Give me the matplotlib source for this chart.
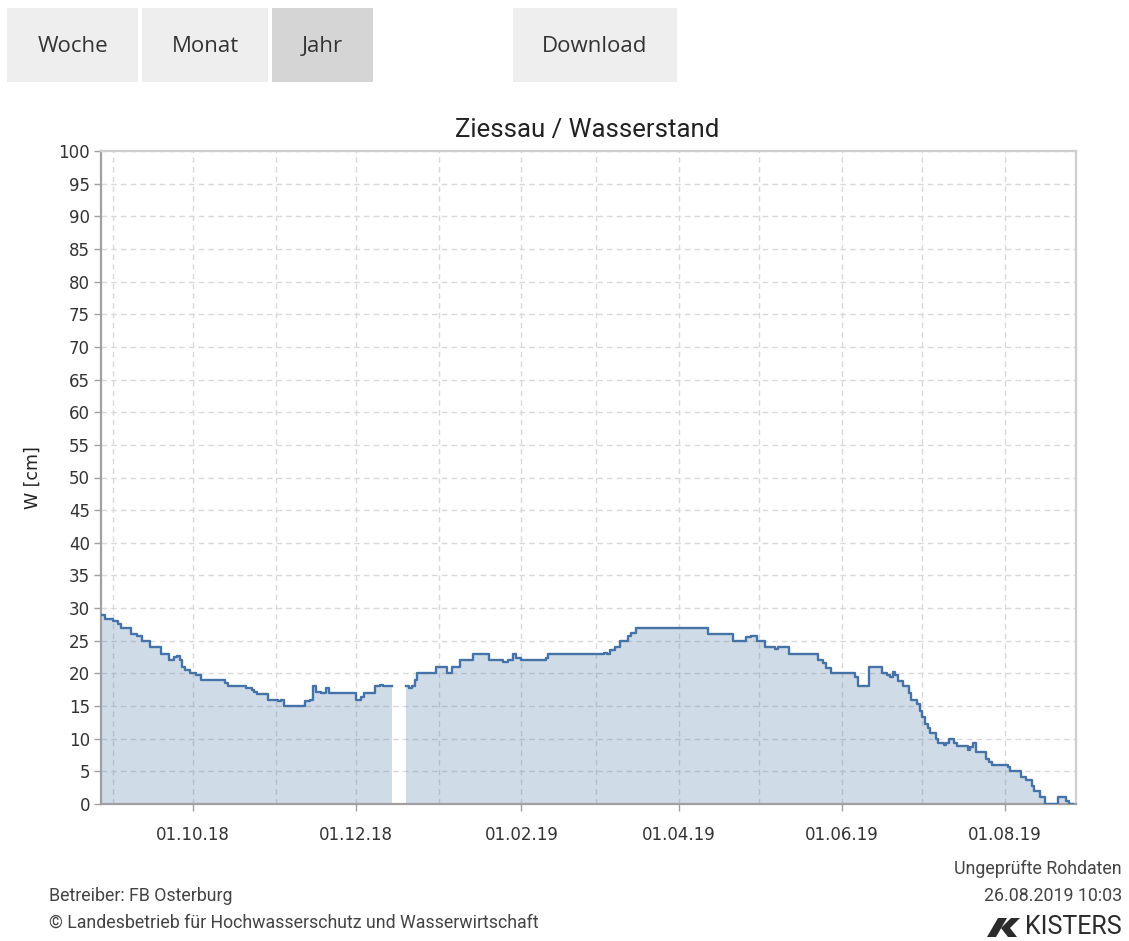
import numpy as np
import pandas as pd
import matplotlib
matplotlib.use("Agg")
import matplotlib.pyplot as plt
import matplotlib.dates as mdates
from matplotlib.patches import Rectangle, Polygon

# ---------------- data ----------------
dates = [
    "2018-08-27 14:00", "2018-08-29", "2018-09-01", "2018-09-03", "2018-09-04",
    "2018-09-08", "2018-09-10", "2018-09-12", "2018-09-15", "2018-09-19",
    "2018-09-22", "2018-09-24", "2018-09-25", "2018-09-26", "2018-09-27",
    "2018-09-28", "2018-09-30", "2018-10-02", "2018-10-04", "2018-10-13",
    "2018-10-14", "2018-10-21", "2018-10-23", "2018-10-24", "2018-10-25",
    "2018-10-29", "2018-11-02", "2018-11-03", "2018-11-04", "2018-11-12",
    "2018-11-14", "2018-11-15", "2018-11-16", "2018-11-18", "2018-11-20",
    "2018-11-21", "2018-12-01", "2018-12-03", "2018-12-04", "2018-12-08",
    "2018-12-10", "2018-12-11", "2018-12-14 12:00",
    "2018-12-19 18:00", "2018-12-21", "2018-12-22", "2018-12-23", "2018-12-24",
    "2018-12-31", "2019-01-04", "2019-01-06", "2019-01-09", "2019-01-14",
    "2019-01-20", "2019-01-25", "2019-01-27", "2019-01-29", "2019-01-30",
    "2019-02-01", "2019-02-10", "2019-02-11", "2019-03-04", "2019-03-05",
    "2019-03-06", "2019-03-08", "2019-03-10", "2019-03-13", "2019-03-14",
    "2019-03-16", "2019-04-12", "2019-04-21", "2019-04-26", "2019-04-28",
    "2019-04-30", "2019-05-03", "2019-05-07", "2019-05-08", "2019-05-12",
    "2019-05-23", "2019-05-25", "2019-05-26", "2019-05-28", "2019-06-06",
    "2019-06-07", "2019-06-11", "2019-06-16", "2019-06-18", "2019-06-19",
    "2019-06-20", "2019-06-21", "2019-06-22", "2019-06-24", "2019-06-26",
    "2019-06-27", "2019-06-29", "2019-06-30", "2019-07-01", "2019-07-02",
    "2019-07-03", "2019-07-04", "2019-07-06", "2019-07-07", "2019-07-09",
    "2019-07-10", "2019-07-11", "2019-07-13", "2019-07-14", "2019-07-18",
    "2019-07-19", "2019-07-20", "2019-07-21", "2019-07-25", "2019-07-26",
    "2019-07-27", "2019-08-02", "2019-08-03", "2019-08-07", "2019-08-09",
    "2019-08-11", "2019-08-12", "2019-08-14", "2019-08-16", "2019-08-21",
    "2019-08-24", "2019-08-25", "2019-08-26 10:03",
]
levels = [
    29, 28.4, 28, 27.6, 27,
    26.1, 25.7, 25, 24, 23,
    22, 22.5, 22.7, 22, 21,
    20.5, 20, 19.7, 19, 18.5,
    18, 17.7, 17.5, 17.2, 16.8,
    16, 15.7, 16, 15, 15.7,
    16, 18, 17.2, 17, 17.8,
    17, 16, 16.4, 17, 18,
    18.3, 18, np.nan,
    18, 17.7, 18, 19, 20,
    21, 20, 21, 22, 23,
    22, 21.8, 22, 23, 22.3,
    22, 22.3, 23, 23.2, 23,
    23.6, 24, 25, 25.8, 26.2,
    27, 26, 25, 25.5, 25.8,
    25, 24, 23.7, 24, 23,
    22, 21.6, 20.8, 20, 19.4,
    18, 21, 20, 19.7, 19.4,
    20.2, 19.7, 18.9, 18, 17,
    16, 15.3, 14.3, 13.3, 12.2,
    11.6, 10.9, 10, 9.3, 9,
    9.3, 10, 9.3, 8.9, 8.2,
    8.7, 9.4, 8, 6.9, 6.5,
    6, 5.6, 5, 4.1, 3.6,
    2.8, 2, 1, 0, 1,
    0.5, 0, 0,
]
y_ticks = list(range(0, 101, 5))
x_range = ["2018-08-27 14:00", "2019-08-27 14:00"]
title = "Ziessau / Wasserstand"
y_label = "W [cm]"
buttons = ["Woche", "Monat", "Jahr", "Download"]

# ---------------- figure ----------------
W, H = 1129, 941
fig = plt.figure(figsize=(W / 100, H / 100), dpi=100)
fig.patch.set_facecolor("white")


def fx(px):
    return px / W


def fy(py):
    return 1 - py / H


ax = fig.add_axes([fx(101), fy(804), (1076 - 101) / W, (804 - 151) / H])

t = pd.to_datetime(dates, format="mixed")
v = np.array(levels, dtype=float)

line_col = "#4572A7"
# split into segments at NaN (data gap)
seg_start = 0
for i in range(len(v) + 1):
    if i == len(v) or np.isnan(v[i]):
        if i > seg_start:
            tt = list(t[seg_start:i])
            vv = list(v[seg_start:i])
            if i < len(v):
                tt.append(t[i])
                vv.append(vv[-1])
            tt = pd.to_datetime(tt)
            ax.fill_between(tt, vv, 0, step="post", color=line_col,
                            alpha=0.25, linewidth=0, zorder=2)
            ax.step(tt, vv, where="post", color=line_col, lw=1.7, zorder=3)
        seg_start = i + 1

ax.set_xlim(pd.to_datetime(x_range[0]), pd.to_datetime(x_range[1]))
ax.set_ylim(0, 100)
ax.set_yticks(y_ticks)

ax.xaxis.set_major_locator(mdates.MonthLocator(bymonth=[2, 4, 6, 8, 10, 12]))
ax.xaxis.set_minor_locator(mdates.MonthLocator())
ax.xaxis.set_major_formatter(mdates.DateFormatter("%d.%m.%y"))

grid_kw = dict(color="#d9d9d9", lw=1.0, ls=(0, (4, 3)))
ax.grid(True, axis="x", which="both", **grid_kw)
ax.grid(True, axis="y", which="major", **grid_kw)
ax.set_axisbelow(True)

for s in ["left", "bottom"]:
    ax.spines[s].set_color("#a0a0a0")
    ax.spines[s].set_linewidth(1.6)
for s in ["top", "right"]:
    ax.spines[s].set_color("#cfcfcf")
    ax.spines[s].set_linewidth(1.6)

ax.tick_params(axis="y", which="major", length=5, width=1, color="#a0a0a0",
               labelsize=12, labelcolor="#333333", pad=3)
ax.tick_params(axis="x", which="major", length=5, width=1, color="#a0a0a0",
               labelsize=12, labelcolor="#333333", pad=11)
ax.tick_params(axis="x", which="minor", length=0)
for lab in ax.get_xticklabels() + ax.get_yticklabels():
    lab.set_fontfamily("DejaVu Sans")

fig.text(fx(587), fy(130), title, ha="center", va="center",
         fontsize=18.5, family="Roboto", color="#222222")
fig.text(fx(33), fy(478), y_label, ha="center", va="center", rotation=90,
         fontsize=12.5, family="DejaVu Sans", color="#222222")

# ---------------- buttons ----------------
boxes = [(7, 138, "#eeeeee"), (142, 268, "#eeeeee"), (272, 373, "#d5d5d5"),
         (513, 677, "#eeeeee")]
for (x0, x1, c), lab in zip(boxes, buttons):
    fig.add_artist(Rectangle((fx(x0), fy(82)), (x1 - x0) / W, 74 / H,
                             transform=fig.transFigure, facecolor=c,
                             edgecolor="none"))
    fig.text(fx((x0 + x1) / 2), fy(46), lab, ha="center", va="center",
             fontsize=16, family="Open Sans", color="#333333")

# ---------------- footer ----------------
foot_kw = dict(va="center", fontsize=12.8, family="Roboto", color="#444444")
fig.text(fx(49), fy(896), "Betreiber: FB Osterburg", ha="left", **foot_kw)
fig.text(fx(49), fy(923),
         "© Landesbetrieb für Hochwasserschutz und Wasserwirtschaft",
         ha="left", **foot_kw)
fig.text(fx(1122), fy(869), "Ungeprüfte Rohdaten", ha="right", **foot_kw)
fig.text(fx(1122), fy(896), "26.08.2019 10:03", ha="right", **foot_kw)

# KISTERS logo
logo_col = "#2b2b2b"
stem = [(987, 937), (996, 937), (1007, 918), (998, 918)]
arm = [(1001, 928), (1011, 918), (1020, 918), (1010, 928), (1017, 937), (1008, 937)]
for poly in (stem, arm):
    fig.add_artist(Polygon([(fx(a), fy(b)) for a, b in poly], closed=True,
                           transform=fig.transFigure, facecolor=logo_col,
                           edgecolor="none"))
fig.text(fx(1122), fy(927), "KISTERS", ha="right", va="center",
         fontsize=18, family="Roboto", color=logo_col)

fig.savefig("out.png", dpi=100)
